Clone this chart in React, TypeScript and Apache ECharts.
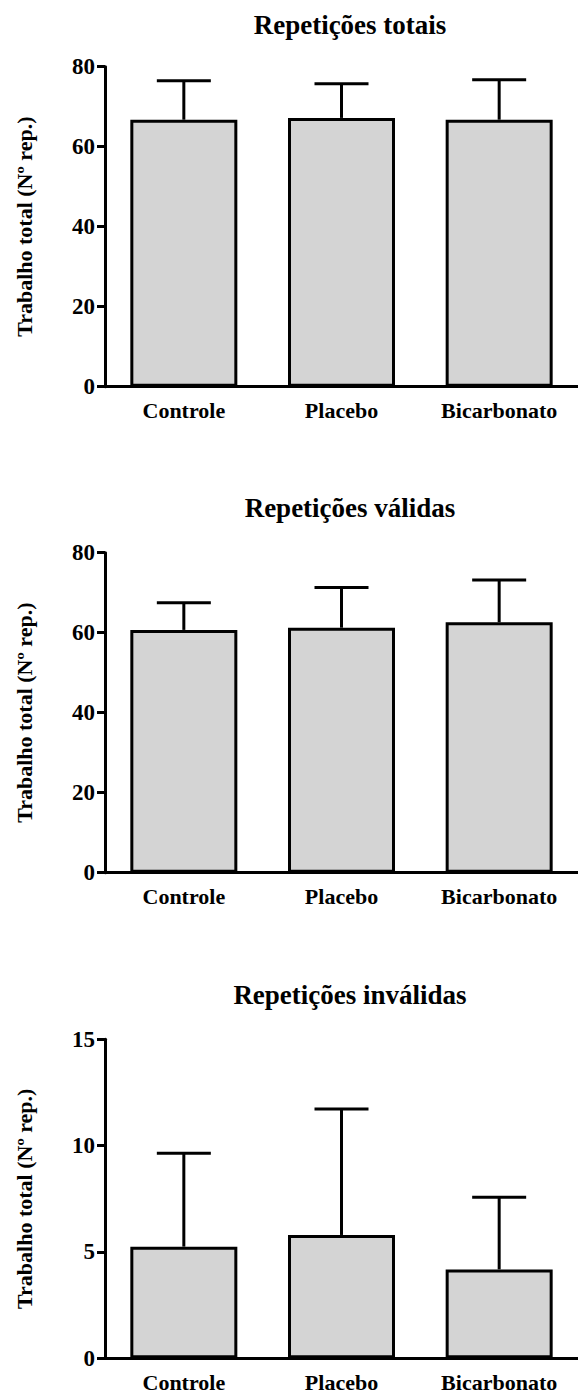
import React, { useEffect, useRef } from "react";
import * as echarts from "echarts";

const categories = ["Controle", "Placebo", "Bicarbonato"];
const titles = ["Repetições totais", "Repetições válidas", "Repetições inválidas"];
const yAxisName = "Trabalho total (Nº rep.)";

// means and standard deviations (upper error bars)
const totaisMean = [66.75, 67.2, 66.75];
const totaisSD = [9.75, 8.55, 10.0];
const validasMean = [60.7, 61.25, 62.6];
const validasSD = [6.8, 10.05, 10.6];
const invalidasMean = [5.25, 5.8, 4.18];
const invalidasSD = [4.39, 5.92, 3.39];

const yMax = [80, 80, 15];
const yInterval = [20, 20, 5];

const FONT = "Liberation Serif";

const gridTops = [66.7, 552.7, 1039.3];
const gridHeights = [320, 320, 319];
const titleTops = [6, 489, 976];

export default function App() {
  const ref = useRef<HTMLDivElement>(null);
  useEffect(() => {
    document.body.style.margin = "0";
    if (!ref.current) return;
    const chart = echarts.init(ref.current, null, { renderer: "svg" });
    const means = [totaisMean, validasMean, invalidasMean];
    const sds = [totaisSD, validasSD, invalidasSD];

    const grid = gridTops.map((t, i) => ({
      left: 105,
      top: t,
      width: 480,
      height: gridHeights[i],
      containLabel: false,
    }));

    const xAxis = gridTops.map((_, i) => ({
      type: "category",
      gridIndex: i,
      data: categories,
      axisLine: { lineStyle: { color: "#000", width: 3 } },
      axisTick: { alignWithLabel: true, length: 7, lineStyle: { color: "#000", width: 3 } },
      axisLabel: { color: "#000", fontFamily: FONT, fontWeight: "bold", fontSize: 22, margin: 13 },
      splitLine: { show: false },
    }));

    const yAxis = gridTops.map((_, i) => ({
      type: "value",
      gridIndex: i,
      min: 0,
      max: yMax[i],
      interval: yInterval[i],
      name: yAxisName,
      nameLocation: "middle",
      nameGap: 70,
      nameTextStyle: { color: "#000", fontFamily: FONT, fontWeight: "bold", fontSize: 22 },
      axisLine: { show: true, lineStyle: { color: "#000", width: 3 } },
      axisTick: { show: true, length: 8, lineStyle: { color: "#000", width: 3 } },
      axisLabel: { color: "#000", fontFamily: FONT, fontWeight: "bold", fontSize: 23, margin: 10 },
      splitLine: { show: false },
    }));

    const series: any[] = [];
    means.forEach((m, i) => {
      series.push({
        type: "bar",
        xAxisIndex: i,
        yAxisIndex: i,
        data: m,
        barWidth: 107,
        itemStyle: { color: "#d4d4d4", borderColor: "#000", borderWidth: 3 },
        z: 2,
      });
      series.push({
        type: "custom",
        xAxisIndex: i,
        yAxisIndex: i,
        data: m.map((v, j) => [j, v, v + sds[i][j]]),
        z: 3,
        renderItem: (params: any, api: any) => {
          const x = api.value(0);
          const base = api.coord([x, api.value(1)]);
          const top = api.coord([x, api.value(2)]);
          const half = 27;
          const style = { stroke: "#000", lineWidth: 3 };
          return {
            type: "group",
            children: [
              { type: "line", shape: { x1: base[0], y1: base[1], x2: top[0], y2: top[1] }, style },
              { type: "line", shape: { x1: top[0] - half, y1: top[1], x2: top[0] + half, y2: top[1] }, style },
            ],
          };
        },
      });
    });

    const title = titles.map((t, i) => ({
      text: t,
      left: 345,
      top: titleTops[i],
      textAlign: "center",
      textStyle: { color: "#000", fontFamily: FONT, fontWeight: "bold", fontSize: 27 },
    }));

    chart.setOption({
      animation: false,
      backgroundColor: "#fff",
      title,
      grid,
      xAxis,
      yAxis,
      series,
    });
    return () => chart.dispose();
  }, []);
  return <div ref={ref} style={{ width: 578, height: 1396 }} />;
}
